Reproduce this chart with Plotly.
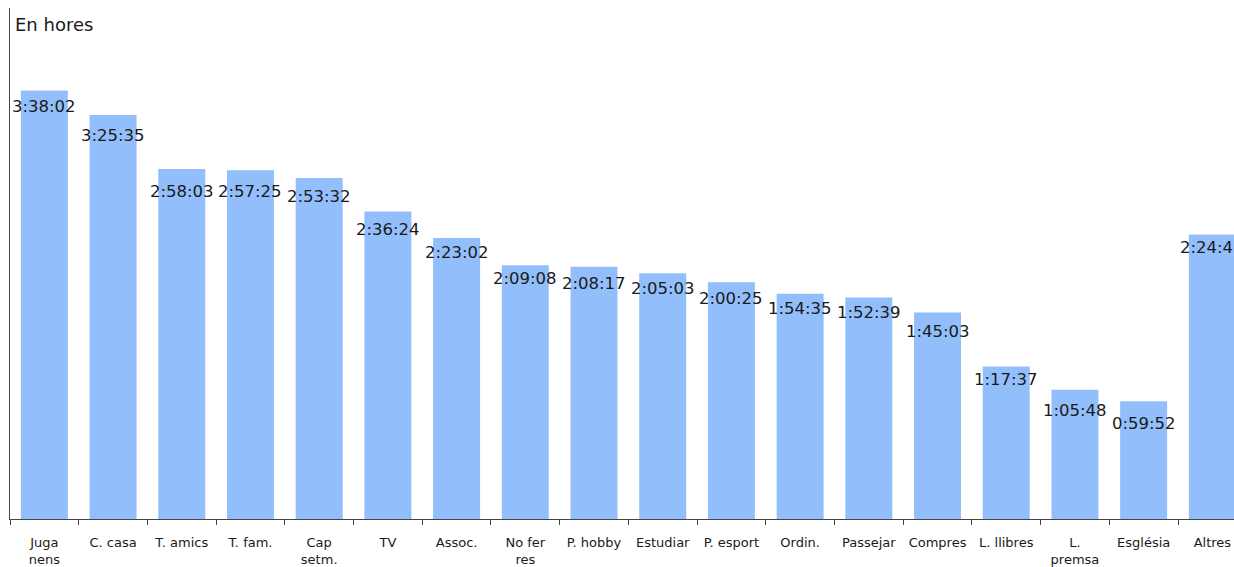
import plotly.graph_objects as go

# Average daily time per activity (h:mm:ss)
categories = ["Juga<br>nens", "C. casa", "T. amics", "T. fam.", "Cap<br>setm.", "TV",
              "Assoc.", "No fer<br>res", "P. hobby", "Estudiar", "P. esport", "Ordin.",
              "Passejar", "Compres", "L. llibres", "L.<br>premsa", "Església", "Altres"]
durations = ["3:38:02", "3:25:35", "2:58:03", "2:57:25", "2:53:32", "2:36:24",
             "2:23:02", "2:09:08", "2:08:17", "2:05:03", "2:00:25", "1:54:35",
             "1:52:39", "1:45:03", "1:17:37", "1:05:48", "0:59:52", "2:24:45"]

# How far (px) each value label sits below the top of its bar
label_drop = [15.7, 20.7, 22, 20.7, 18.3, 18.3, 15, 13.3, 16.7,
              15.3, 16.3, 15, 14.7, 18.7, 13.3, 21, 21.7, 12.7]


def to_seconds(s):
    h, m, sec = (int(p) for p in s.split(":"))
    return h * 3600 + m * 60 + sec


seconds = [to_seconds(d) for d in durations]

FONT = "DejaVu Sans"
BAR = "#92bffb"
INK = "#1a1a1a"
AXIS = "#444444"

fig = go.Figure(go.Bar(
    x=categories, y=seconds,
    marker=dict(color=BAR, line=dict(width=0)),
    hoverinfo="skip",
))

annotations = [
    dict(x=c, y=v, xref="x", yref="y", text=d, showarrow=False,
         xanchor="center", yanchor="middle", yshift=-drop,
         font=dict(family=FONT, size=16.5, color=INK))
    for c, v, d, drop in zip(categories, seconds, durations, label_drop)
]
annotations.append(dict(
    x=0, y=1, xref="paper", yref="paper", text="En hores", showarrow=False,
    xanchor="left", yanchor="top", xshift=3, yshift=-4,
    font=dict(family=FONT, size=18, color=INK)))

fig.update_layout(
    width=1234, height=567,
    margin=dict(l=10, r=0, t=8, b=48),
    paper_bgcolor="white", plot_bgcolor="white",
    bargap=0.316,
    showlegend=False,
    annotations=annotations,
    font=dict(family=FONT, size=13, color=INK),
)
fig.update_xaxes(
    type="category", range=[-0.5, 17.315],
    showline=True, linecolor=AXIS, linewidth=1,
    ticks="outside", tickson="boundaries", ticklen=5, tickcolor=AXIS, tickwidth=1,
    ticklabelstandoff=11,
    tickfont=dict(family=FONT, size=13, color=INK),
    showgrid=False, zeroline=False, fixedrange=True, automargin=False,
)
fig.update_yaxes(
    range=[0, 15600],
    showline=True, linecolor=AXIS, linewidth=1,
    showticklabels=False, ticks="", showgrid=False, zeroline=False, fixedrange=True,
)

fig.write_html("out.html", config={"displayModeBar": False})
